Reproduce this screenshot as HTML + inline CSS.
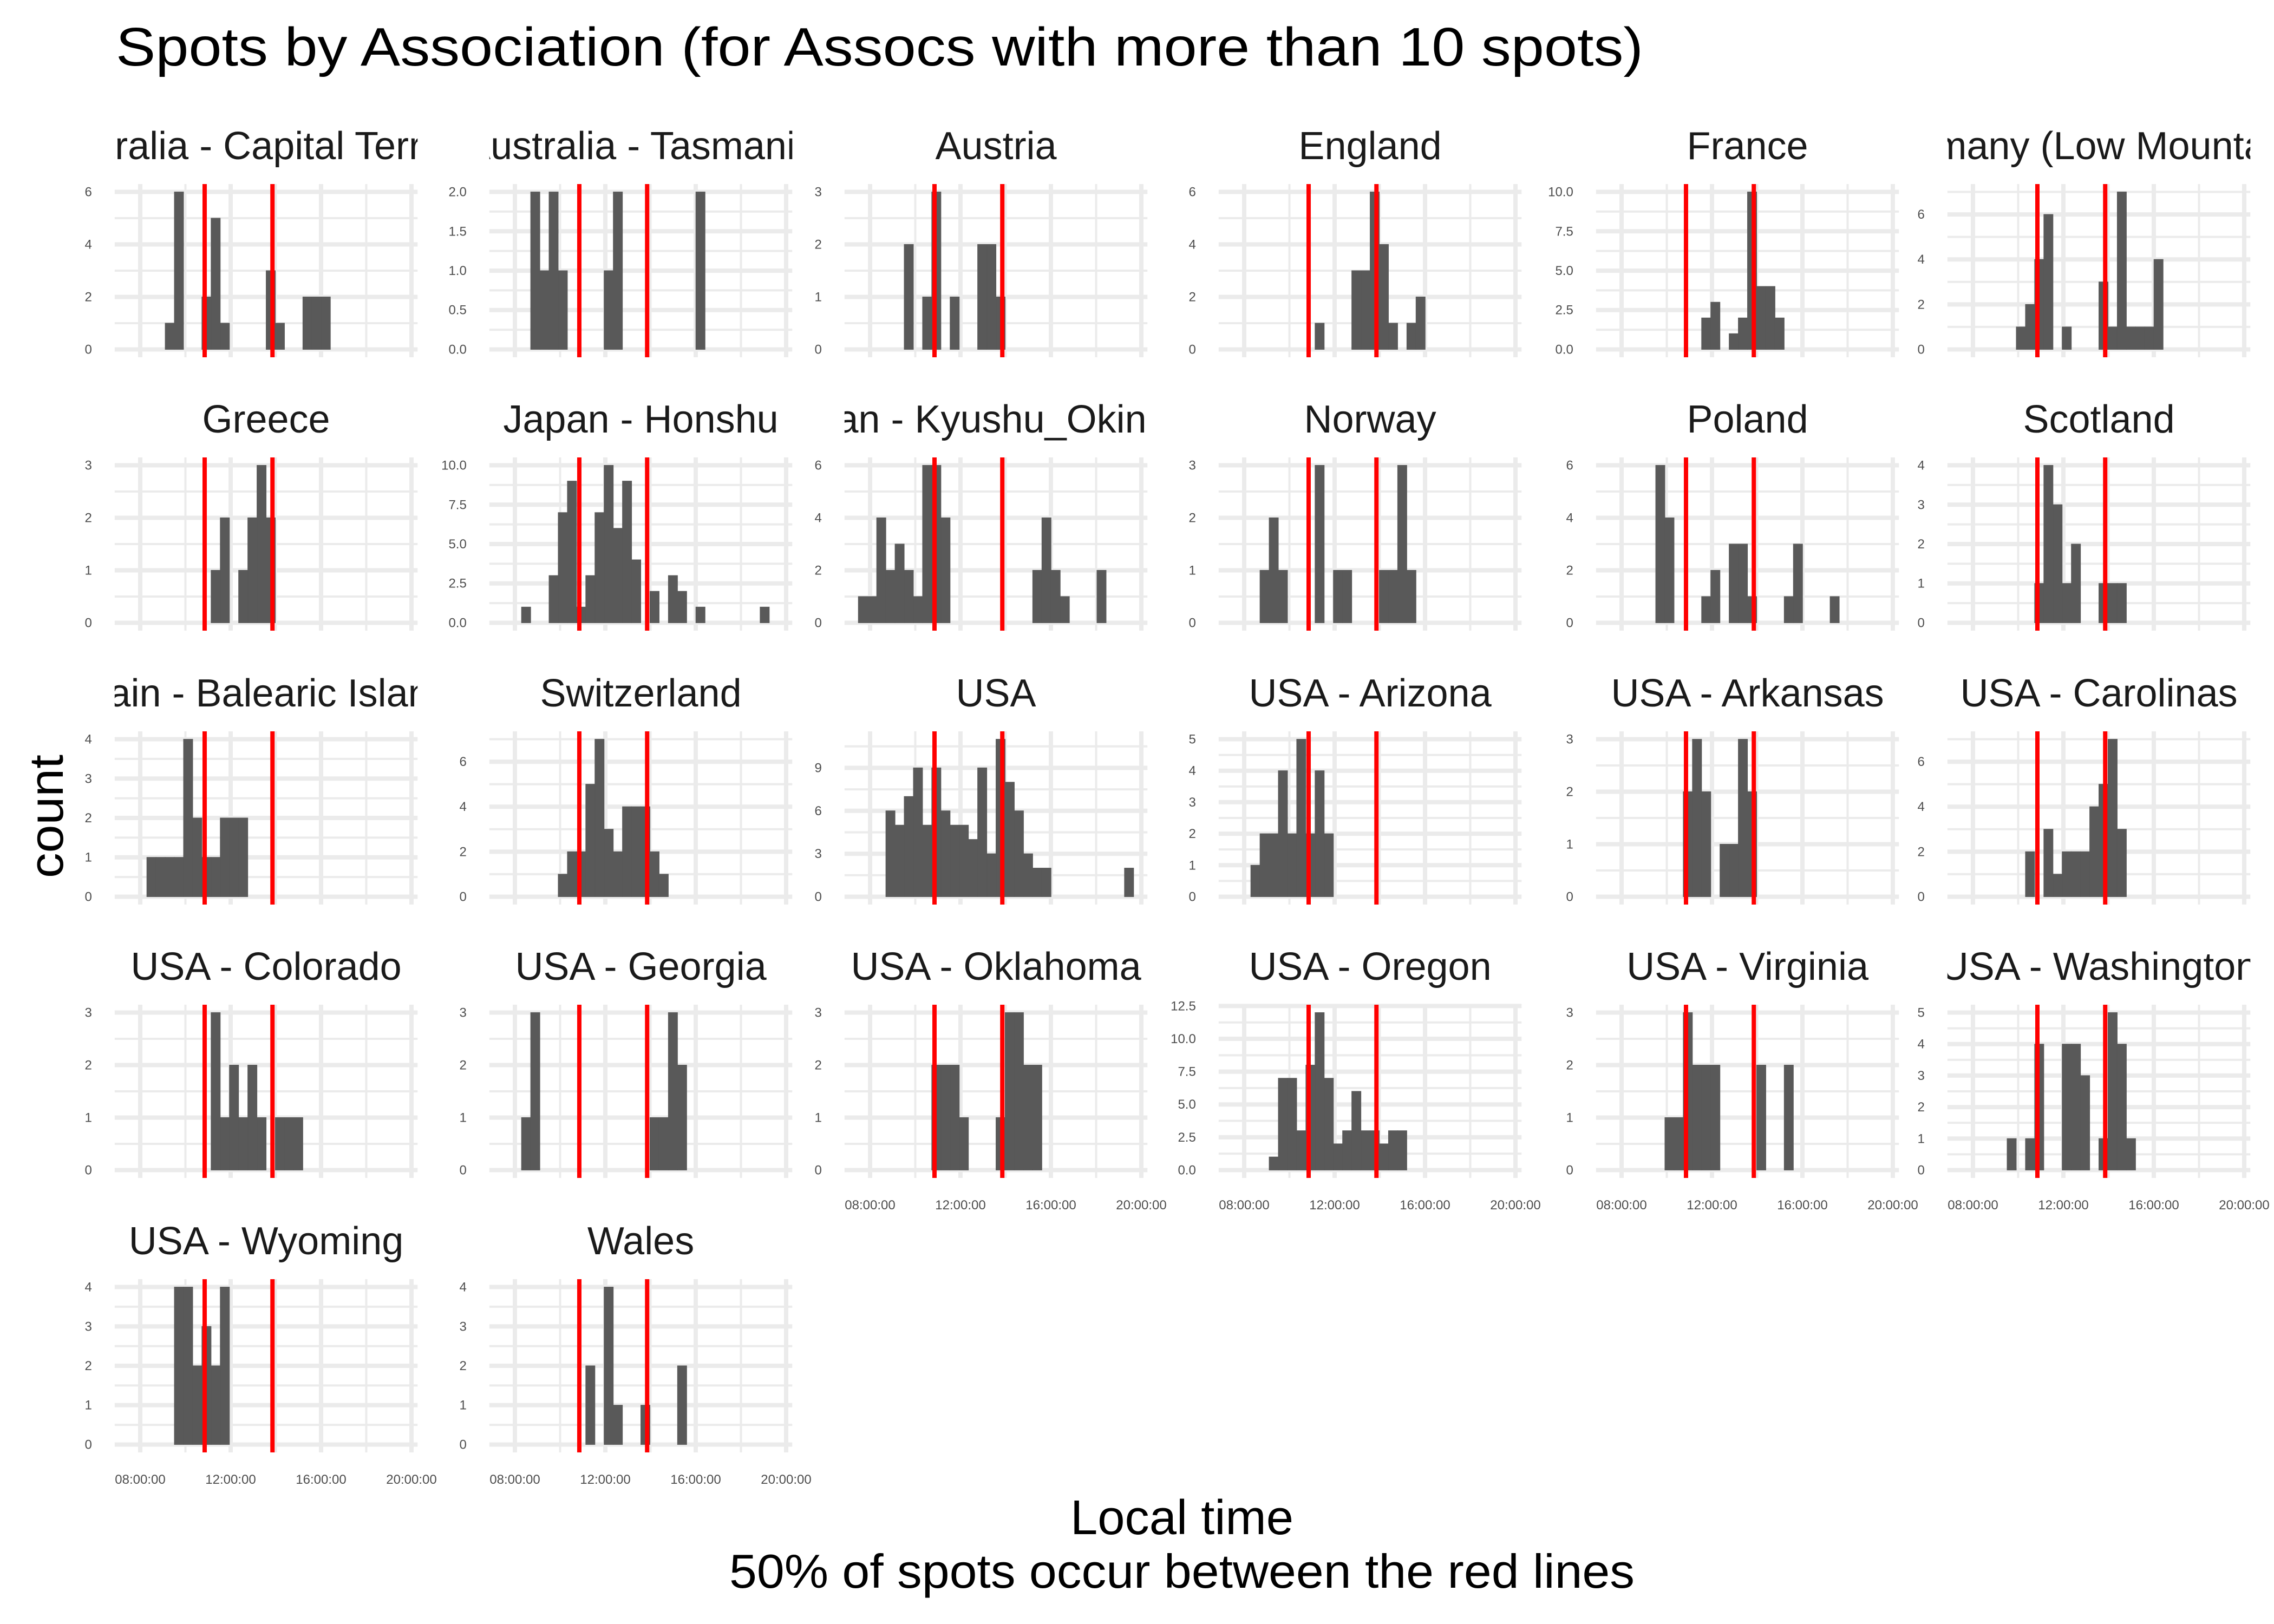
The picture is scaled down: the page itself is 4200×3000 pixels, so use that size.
<!DOCTYPE html>
<html><head><meta charset="utf-8"><title>Spots by Association</title>
<style>
html,body{margin:0;padding:0;background:#fff;}
svg{display:block;font-family:"Liberation Sans",Arial,sans-serif;}
</style></head>
<body>
<svg id="chart" width="4200" height="3000" viewBox="0 0 4200 3000" xmlns="http://www.w3.org/2000/svg">
<rect x="0" y="0" width="4200" height="3000" fill="#ffffff"/>
<text x="214" y="121" font-size="100" fill="#000" textLength="2821" lengthAdjust="spacingAndGlyphs">Spots by Association (for Assocs with more than 10 spots)</text>
<text x="0" y="0" font-size="88" fill="#000" text-anchor="middle" transform="translate(116,1508) rotate(-90)" textLength="228" lengthAdjust="spacingAndGlyphs">count</text>
<text x="2183" y="2834" font-size="90" fill="#000" text-anchor="middle" textLength="412" lengthAdjust="spacingAndGlyphs">Local time</text>
<text x="2183" y="2933" font-size="88" fill="#000" text-anchor="middle" textLength="1672" lengthAdjust="spacingAndGlyphs">50% of spots occur between the red lines</text>
<defs id="clips"></defs>
<g id="panels"></g>
</svg>
<script>
const panelNames = ["Australia - Capital Territory","Australia - Tasmania","Austria","England","France","Germany (Low Mountains)","Greece","Japan - Honshu","Japan - Kyushu_Okinawa","Norway","Poland","Scotland","Spain - Balearic Islands","Switzerland","USA","USA - Arizona","USA - Arkansas","USA - Carolinas","USA - Colorado","USA - Georgia","USA - Oklahoma","USA - Oregon","USA - Virginia","USA - Washington","USA - Wyoming","Wales"];
const panelCounts = [
[0,0,0,0,1,6,0,0,2,5,1,0,0,0,0,3,1,0,0,2,2,2,0,0,0,0,0,0,0,0],
[0,0,0,2,1,2,1,0,0,0,0,1,2,0,0,0,0,0,0,0,0,2,0,0,0,0,0,0,0,0],
[0,0,0,0,0,2,0,1,3,0,1,0,0,2,2,1,0,0,0,0,0,0,0,0,0,0,0,0,0,0],
[0,0,0,0,0,0,0,0,0,1,0,0,0,3,3,6,4,1,0,1,2,0,0,0,0,0,0,0,0,0],
[0,0,0,0,0,0,0,0,0,0,2,3,0,1,2,10,4,4,2,0,0,0,0,0,0,0,0,0,0,0],
[0,0,0,0,0,0,1,2,4,6,0,1,0,0,0,3,1,7,1,1,1,4,0,0,0,0,0,0,0,0],
[0,0,0,0,0,0,0,0,0,1,2,0,1,2,3,2,0,0,0,0,0,0,0,0,0,0,0,0,0,0],
[0,0,1,0,0,3,7,9,1,3,7,10,6,9,4,0,2,0,3,2,0,1,0,0,0,0,0,0,1,0],
[1,1,4,2,3,2,1,6,6,4,0,0,0,0,0,0,0,0,0,2,4,2,1,0,0,0,2,0,0,0],
[0,0,0,1,2,1,0,0,0,3,0,1,1,0,0,0,1,1,3,1,0,0,0,0,0,0,0,0,0,0],
[0,0,0,0,0,6,4,0,0,0,1,2,0,3,3,1,0,0,0,1,3,0,0,0,1,0,0,0,0,0],
[0,0,0,0,0,0,0,0,1,4,3,1,2,0,0,1,1,1,0,0,0,0,0,0,0,0,0,0,0,0],
[0,0,1,1,1,1,4,2,1,1,2,2,2,0,0,0,0,0,0,0,0,0,0,0,0,0,0,0,0,0],
[0,0,0,0,0,0,1,2,2,5,7,3,2,4,4,4,2,1,0,0,0,0,0,0,0,0,0,0,0,0],
[0,0,0,6,5,7,9,5,9,6,5,5,4,9,3,11,8,6,3,2,2,0,0,0,0,0,0,0,0,2],
[0,0,1,2,2,4,2,5,2,4,2,0,0,0,0,0,0,0,0,0,0,0,0,0,0,0,0,0,0,0],
[0,0,0,0,0,0,0,0,2,3,2,0,1,1,3,2,0,0,0,0,0,0,0,0,0,0,0,0,0,0],
[0,0,0,0,0,0,0,2,0,3,1,2,2,2,4,5,7,3,0,0,0,0,0,0,0,0,0,0,0,0],
[0,0,0,0,0,0,0,0,0,3,1,2,1,2,1,0,1,1,1,0,0,0,0,0,0,0,0,0,0,0],
[0,0,1,3,0,0,0,0,0,0,0,0,0,0,0,0,1,1,3,2,0,0,0,0,0,0,0,0,0,0],
[0,0,0,0,0,0,0,0,2,2,2,1,0,0,0,1,3,3,2,2,0,0,0,0,0,0,0,0,0,0],
[0,0,0,0,1,7,7,3,8,12,7,2,3,6,3,3,2,3,3,0,0,0,0,0,0,0,0,0,0,0],
[0,0,0,0,0,0,1,1,3,2,2,2,0,0,0,0,2,0,0,2,0,0,0,0,0,0,0,0,0,0],
[0,0,0,0,0,1,0,1,4,0,0,4,4,3,0,1,5,4,1,0,0,0,0,0,0,0,0,0,0,0],
[0,0,0,0,0,4,4,2,3,2,4,0,0,0,0,0,0,0,0,0,0,0,0,0,0,0,0,0,0,0],
[0,0,0,0,0,0,0,0,0,2,0,4,1,0,0,1,0,0,0,2,0,0,0,0,0,0,0,0,0,0]
];
const panelYTicks = [
[0,2,4,6],[0,0.5,1,1.5,2],[0,1,2,3],[0,2,4,6],[0,2.5,5,7.5,10],[0,2,4,6],
[0,1,2,3],[0,2.5,5,7.5,10],[0,2,4,6],[0,1,2,3],[0,2,4,6],[0,1,2,3,4],
[0,1,2,3,4],[0,2,4,6],[0,3,6,9],[0,1,2,3,4,5],[0,1,2,3],[0,2,4,6],
[0,1,2,3],[0,1,2,3],[0,1,2,3],[0,2.5,5,7.5,10,12.5],[0,1,2,3],[0,1,2,3,4,5],
[0,1,2,3,4],[0,1,2,3,4]
];
const xTickHours = [8,12,16,20];
const xTickLabels = ["08:00:00","12:00:00","16:00:00","20:00:00"];
const xMinorHours = [10,14,18];
const binStart = 7.48;
const binWidth = 0.406;
const quartileLines = [10.85, 13.85];

const NS = "http://www.w3.org/2000/svg";
const colX08 = [259, 951, 1607, 2298, 2995, 3644];
const rowTop = [340, 845, 1351, 1856, 2363];
const PH = 320, PXH = 41.75, XMIN = 6.87, XMAX = 20.27;
const PW = (XMAX - XMIN) * PXH;
const panelsG = document.getElementById('panels');
const clipsG = document.getElementById('clips');

function mk(tag, attrs, parent) {
  const e = document.createElementNS(NS, tag);
  for (const k in attrs) e.setAttribute(k, attrs[k]);
  parent.appendChild(e);
  return e;
}

panelNames.forEach((name, p) => {
  const col = p % 6, row = Math.floor(p / 6);
  const counts = panelCounts[p];
  const ticks = panelYTicks[p];
  const ymax = Math.max(...counts);
  const top = rowTop[row];
  const left = colX08[col] - (8 - XMIN) * PXH;
  const bottom = top + PH;
  const xs = h => left + (h - XMIN) * PXH;
  const ylo = -0.05 * ymax, yhi = 1.05 * ymax;
  const ys = v => bottom - (v - ylo) / (yhi - ylo) * PH;

  const g = mk('g', {}, panelsG);
  
  

  const step = ticks[1] - ticks[0];
  const minors = [];
  for (let i = 0; i < ticks.length; i++) {
    const m = ticks[i] + step / 2;
    if (m <= yhi) minors.push(m);
  }
  minors.forEach(m => {
    const l = mk('line', {x1: left, x2: left + PW, y1: ys(m), y2: ys(m), stroke: '#ebebeb', 'stroke-width': 4}, g);
    
    
  });
  xMinorHours.forEach(h => {
    const l = mk('line', {x1: xs(h), x2: xs(h), y1: top, y2: bottom, stroke: '#ebebeb', 'stroke-width': 4}, g);
    
    
  });
  ticks.forEach(t => {
    const l = mk('line', {x1: left, x2: left + PW, y1: ys(t), y2: ys(t), stroke: '#ebebeb', 'stroke-width': 8}, g);
    
    
  });
  xTickHours.forEach(h => {
    const l = mk('line', {x1: xs(h), x2: xs(h), y1: top, y2: bottom, stroke: '#ebebeb', 'stroke-width': 8}, g);
    
    
  });

  counts.forEach((c, i) => {
    if (c <= 0) return;
    const x0 = xs(binStart + i * binWidth);
    const r = mk('rect', {x: x0, y: ys(c), width: binWidth * PXH, height: ys(0) - ys(c), fill: '#595959', stroke: '#595959', 'stroke-width': 1}, g);
    
    
  });

  quartileLines.forEach(q => {
    const l = mk('line', {x1: xs(q), x2: xs(q), y1: top, y2: bottom, stroke: '#ff0000', 'stroke-width': 8}, g);
    
    
  });

  const dec = ticks.some(t => t % 1 !== 0);
  ticks.forEach(t => {
    const tx = mk('text', {x: left - 42, y: ys(t) + 8, 'font-size': 24, fill: '#4d4d4d', 'text-anchor': 'end'}, g);
    tx.textContent = dec ? t.toFixed(1) : String(t);
    
    
  });

  const isBottom = row === 4 || (row === 3 && col >= 2);
  if (isBottom) {
    xTickHours.forEach((h, i) => {
      const tx = mk('text', {x: xs(h), y: bottom + 58, 'font-size': 24, fill: '#4d4d4d', 'text-anchor': 'middle'}, g);
      tx.textContent = xTickLabels[i];
      
      
    });
  }

  const cp = mk('clipPath', {id: 'clip' + p}, clipsG);
  mk('rect', {x: left, y: top - 150, width: PW, height: 150}, cp);
  const tt = mk('text', {x: left + PW / 2, y: top - 46, 'font-size': 72, fill: '#1a1a1a', 'text-anchor': 'middle', 'clip-path': 'url(#clip' + p + ')'}, g);
  tt.textContent = name;
  
  
});
</script>
</body></html>
